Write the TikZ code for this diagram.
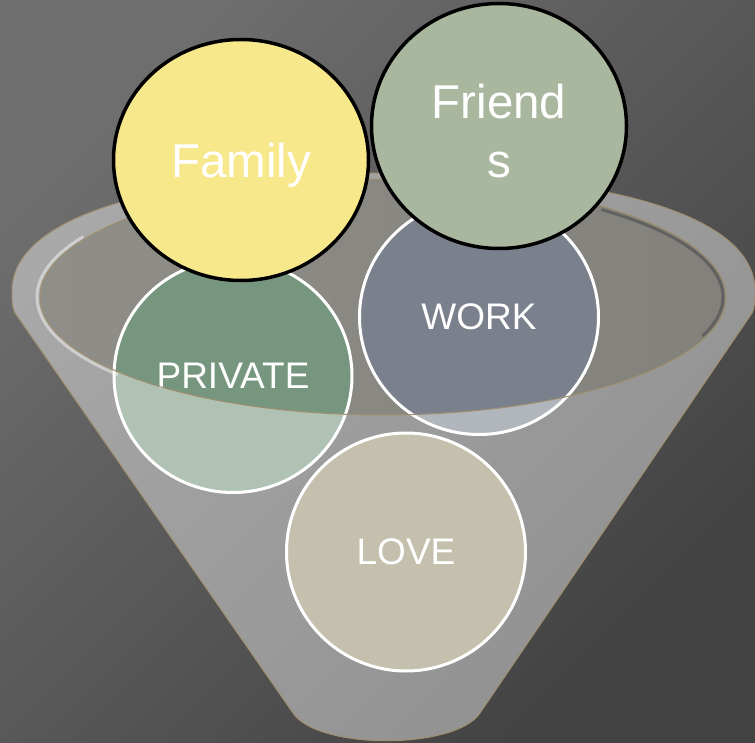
\documentclass[tikz,border=0pt]{standalone}
\usepackage{fontspec}
\setmainfont{Liberation Sans}
\usetikzlibrary{shapes.geometric}
\definecolor{bgLight}{HTML}{6E6E6E}
\definecolor{bgDark}{HTML}{424242}
\definecolor{rimTan}{HTML}{A08F6E}
\definecolor{mouthLight}{HTML}{908E89}
\definecolor{mouthDark}{HTML}{83817C}
\definecolor{familyYellow}{HTML}{F8E88C}
\definecolor{friendsSage}{HTML}{A9B79F}
\definecolor{privateGreen}{HTML}{77967F}
\definecolor{workSlate}{HTML}{7A808C}
\definecolor{loveBeige}{HTML}{C5BFAD}
\tikzset{
    bubble/.style={ellipse,draw=white,line width=3pt,text=white,inner sep=0pt,
        align=center,font={\fontsize{37}{42}\selectfont}},
    topbubble/.style={bubble,draw=black,line width=3.5pt,text depth=0pt,
        font={\fontsize{47.5}{59}\selectfont}},
    rimline/.style={draw=rimTan,line width=1pt}
}

\begin{document}
\begin{tikzpicture}[x=1pt,y=-1pt]
    \useasboundingbox (0,0) rectangle (755,743);
    % background
    \shade[top color=bgLight,bottom color=bgDark,shading angle=45] (0,0) rectangle (755,743);

    % funnel mouth, seen from above
    \shade[left color=mouthLight,right color=mouthDark] (383,297) ellipse[x radius=343,y radius=118];

    % the two circles that sit inside the funnel
    \node[bubble,fill=privateGreen,minimum width=238pt,minimum height=233pt] (private) at (233,376) {PRIVATE};
    \node[bubble,fill=workSlate,minimum width=239pt,minimum height=235pt] (work) at (479,317) {WORK};

    % funnel front, mouth cut out
    \path[rimline,fill=white,fill opacity=0.42,even odd rule]
        (293,713) -- (15,313) .. controls (12,307) and (12,300) .. (12,290)
        .. controls (14,205) and (200,173) .. (385,173)
        .. controls (570,173) and (753,205) .. (755,290)
        .. controls (755,300) and (755,306) .. (752,313)
        -- (480,713) .. controls (455,750) and (318,750) .. (293,713) -- cycle
        (383,297) ellipse[x radius=343,y radius=118];
    \draw[white,opacity=0.45,line width=3pt]
        (383,297) ++(140:346 and 121) arc[start angle=140,end angle=210,x radius=346,y radius=121];
    \draw[black!70,opacity=0.6,line width=3pt]
        (383,297) ++(-50:340 and 114) arc[start angle=-50,end angle=20,x radius=340,y radius=114];

    % circles in front
    \node[bubble,fill=loveBeige,minimum width=239pt,minimum height=238pt] (love) at (406,552) {LOVE};
    \node[topbubble,fill=familyYellow,minimum width=255pt,minimum height=241pt] (family) at (241,160) {Family};
    \node[topbubble,fill=friendsSage,minimum width=255pt,minimum height=245pt] (friends) at (499,126)
        {\rule{0pt}{44pt}Friend\\s};
\end{tikzpicture}
\end{document}
